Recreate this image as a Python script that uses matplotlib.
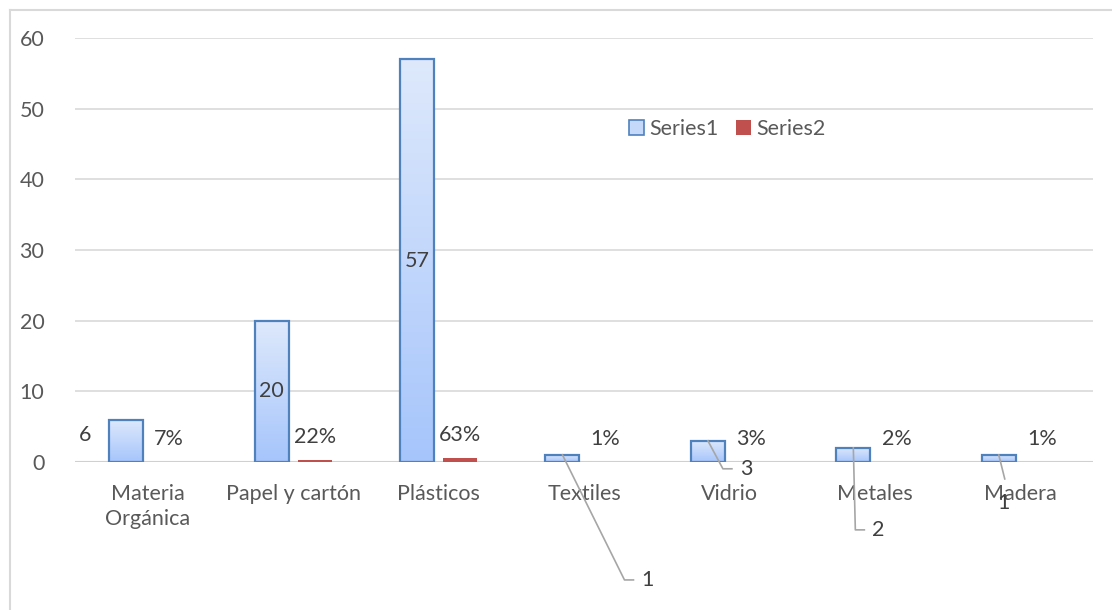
import numpy as np
import matplotlib
matplotlib.use("Agg")
import matplotlib.pyplot as plt
from matplotlib.colors import LinearSegmentedColormap
from matplotlib.patches import Rectangle
from matplotlib.lines import Line2D

# ================== DATA ==================
categories = ["Materia\nOrgánica", "Papel y cartón", "Plásticos", "Textiles",
              "Vidrio", "Metales", "Madera"]
series1 = [6, 20, 57, 1, 3, 2, 1]
series2 = [0.07, 0.22, 0.63, 0.01, 0.03, 0.02, 0.01]
yticks = [0, 10, 20, 30, 40, 50, 60]

# ================== STYLE ==================
plt.rcParams['font.family'] = ['Lato', 'DejaVu Sans']
txt = '#404040'
tick_col = '#595959'
grid_col = '#d9d9d9'
edge_col = '#4f81bd'
red = '#c0504d'
grad = LinearSegmentedColormap.from_list('g', ['#a6c5fb', '#dee9fc'])
fs = 15.5

W, H, DPI = 1112, 610, 100
fig = plt.figure(figsize=(W / DPI, H / DPI), dpi=DPI)
ax = fig.add_axes([75 / W, (H - 462) / H, (1093 - 75) / W, (462 - 38) / H])

n = len(categories)
x = np.arange(n)
bw = 0.234
off = 0.148

# outer chart border (only left and top visible)
fig.add_artist(Line2D([10 / W, 10 / W], [0, (H - 10) / H], color='#d9d9d9', lw=1.5))
fig.add_artist(Line2D([10 / W, 1], [(H - 10) / H, (H - 10) / H], color='#d9d9d9', lw=1.5))

# gridlines
for t in yticks[1:]:
    ax.axhline(t, color=grid_col, lw=1.2, zorder=0)
ax.axhline(0, color='#d0d0d0', lw=1.5, zorder=1)

# series 1 with gradient fill
gimg = np.linspace(0, 1, 256).reshape(-1, 1)
for xi, v in zip(x - off, series1):
    rect = Rectangle((xi - bw / 2, 0), bw, v, facecolor='none',
                     edgecolor=edge_col, lw=1.6, zorder=3)
    ax.add_patch(rect)
    im = ax.imshow(gimg, cmap=grad, aspect='auto', origin='lower',
                   extent=(xi - bw / 2, xi + bw / 2, 0, v), zorder=2)
    im.set_clip_path(rect)
ax.set_xlim(-0.5, n - 0.5)
ax.set_ylim(0, 60)

# series 2
ax.bar(x + off, series2, bw, color=red, zorder=2)

# axes styling
for s in ax.spines.values():
    s.set_visible(False)
ax.set_yticks(yticks)
ax.set_yticklabels([str(t) for t in yticks], fontsize=fs, color=tick_col)
ax.set_xticks(x)
ax.set_xticklabels(categories, fontsize=fs, color=tick_col, linespacing=1.3)
ax.tick_params(axis='both', length=0)
ax.tick_params(axis='y', pad=22)
ax.tick_params(axis='x', pad=16)

# series 2 labels (percent)
for xi, v in zip(x + off, series2):
    ax.annotate(f"{v:.0%}", (xi, v), xytext=(0, 23), textcoords='offset pixels',
                ha='center', va='center', fontsize=fs, color=txt)

# series 1 labels
lab_off = {
    0: (-41, -15, False),
    1: None,
    2: None,
    3: (85, -125, True),
    4: (38, -28, True),
    5: (25, -82, True),
    6: (5, -48, True),
}
fig.canvas.draw()
tr = ax.transData
for i, (xi, v) in enumerate(zip(x - off, series1)):
    if lab_off[i] is None:
        ax.text(xi, v / 2, str(v), ha='center', va='center', fontsize=fs, color=txt, zorder=5)
        continue
    dx, dy, leader = lab_off[i]
    px, py = tr.transform((xi, v))
    lx, ly = px + dx, py + dy
    if leader:
        if i == 6:
            pts = [(px, py), (px + 6, py - 24)]
        else:
            pts = [(px, py), (lx - 23, ly), (lx - 14, ly)]
        xs = [p[0] / W for p in pts]
        ys = [p[1] / H for p in pts]
        fig.add_artist(Line2D(xs, ys, color='#a6a6a6', lw=1.2, zorder=4))
    fig.text(lx / W, ly / H, str(v), ha='center', va='center', fontsize=fs, color=txt)

# legend
h1 = Rectangle((0, 0), 1, 1, facecolor='#c5d9fb', edgecolor=edge_col, lw=1.2)
h2 = Rectangle((0, 0), 1, 1, facecolor=red)
fig.legend([h1, h2], ["Series1", "Series2"], loc='center', ncol=2,
           bbox_to_anchor=(727 / W, (H - 129) / H), frameon=False, fontsize=fs,
           handlelength=0.7, handleheight=0.7, handletextpad=0.25, columnspacing=0.8,
           labelcolor=tick_col)

fig.savefig("out.png", dpi=DPI)
